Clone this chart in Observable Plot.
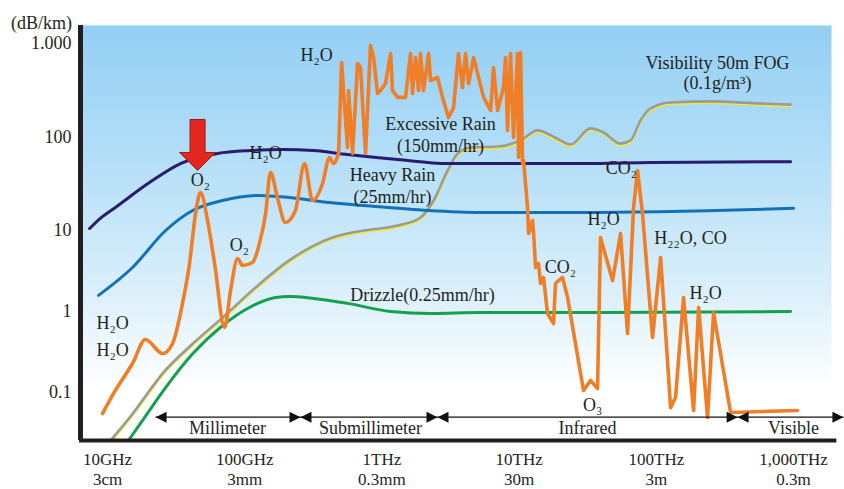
<!DOCTYPE html>
<html><head><meta charset="utf-8">
<script src="https://cdn.jsdelivr.net/npm/d3@7"></script>
<script src="https://cdn.jsdelivr.net/npm/@observablehq/plot@0.6"></script>
<style>body{margin:0;background:#fff;}</style>
</head><body><div id="chart"></div>
<script>
// Frequency in GHz, attenuation in dB/km
const excessiveRain = [[7.4,10.5],[8.9,13.6],[11.4,17.7],[20.2,32.8],[34,52.5],[63.4,67.3],[110,72.4],[189,74.3],[317,72.4],[561,65.6],[1300,58],[3010,52.5],[9100,52.5],[28000,52.5],[90800,53.8],[951000,55]];
const heavyRain = [[8.6,1.58],[15.2,3.49],[26.5,10],[41.7,16.4],[68.9,21],[128,23.8],[212,22.6],[415,20],[735,18.6],[2150,16.4],[5240,15.6],[28000,15.6],[1000000,17.3]];
const drizzle = [[14.2,0.0255],[18.6,0.049],[26.5,0.115],[41.7,0.30],[68.9,0.67],[108,1.12],[168,1.49],[212,1.53],[317,1.45],[561,1.26],[1155,1.0],[2260,0.945],[5240,0.97],[28000,0.97],[951000,1.0]];
const fog = [[10.5,0.0255],[14.5,0.049],[26.5,0.19],[41.7,0.40],[68.9,0.84],[120,1.98],[212,4.3],[436,8.2],[735,10],[1300,11.3],[1910,13.8],[2380,21],[3010,44],[3560,67],[4420,78],[6960,80],[10230,93],[13600,119],[19000,97],[23700,84],[33100,125],[41200,113],[54800,86],[64800,93],[76700,152],[90800,204],[126800,236],[248000,242],[574000,230],[951000,224]];
const gasSmooth = [[9.2,0.055],[11.4,0.106],[15.2,0.228],[18.9,0.451],[25.2,0.303],[29.8,0.403],[35.2,1.26],[39.6,3.92],[43.8,15.2],[47.6,25.6],[53.6,12.8],[60.3,3.92],[71.3,0.634],[78.8,1.81],[88.7,4.51],[96.4,3.70],[114,4.03],[128,6.92],[142,15.2],[154,42.1],[173,22.6],[198,12.2],[234,16.4],[273,52.5],[312,21.0],[369,32.0],[415,61.0],[444,52.5],[483,67.3]];
const gasSharp = [[483,67.3],[508,628],[561,78],[571,316],[611,67.3],[664,613],[698,556],[759,67.3],[826,952],[869,710],[929,294],[977,316],[1062,375],[1156,783],[1194,316],[1300,267],[1486,267],[1616,783],[1671,294],[1757,710],[1849,316],[1910,783],[2009,316],[2188,783],[2260,404],[2541,435],[2767,267],[3055,163],[3325,208],[3614,783],[3865,340],[4066,783],[4276,375],[4656,710],[4977,480],[5508,267],[6194,194],[6506,556],[6966,194],[7698,340],[7962,710],[8227,119],[8650,783],[9099,100],[9731,783],[9900,61],[10230,802],[10590,52.5],[10770,56.6],[11510,17.7],[11720,9.18],[12530,12.8],[12740,9.18],[13180,3.49],[13840,3.92],[14320,2.22],[15060,2.63],[16100,0.945],[17810,0.711],[18410,2.22],[19360,2.41],[20710,2.63],[22540,1.49],[29450,0.106],[33130,0.141],[37250,0.112],[39170,8.2],[47940,2.41],[54830,9.18],[61660,0.535],[68220,17.7],[72950,44.2],[79270,15.2],[93790,0.478],[107400,4.64],[127000,0.065],[138000,0.0867],[157800,1.49],[186700,0.060],[203200,1.12],[236100,0.049],[261200,0.972],[347500,0.0566],[1070000,0.060]];

const labelText = ["H₂O","H₂O","O₂","O₂","H₂O","H₂O","Excessive Rain","(150mm/hr)","Heavy Rain","(25mm/hr)","Visibility 50m FOG","(0.1g/m³)","Drizzle(0.25mm/hr)","CO₂","H₂O","H₂₂O, CO","CO₂","H₂O","O₃"];
const labelFreq = [10.9,10.9,47.6,91.6,142,334,2675,2675,1194,1194,279000,279000,1977,55700,41200,177500,20000,228500,34300];
const labelAtten = [0.711,0.33,34.5,6.53,67.3,745,137,80,39,22.6,613,375,1.58,46.4,13.1,7.96,3.49,1.67,0.069];

const bandNames = ["Millimeter","Submillimeter","Infrared","Visible"];
const bandLabelFreq = [75,826,31500,1000000];
const bandEdges = [22.4,255,2541,391000,2310000];
const bandLineAtten = 0.0495;
const bandLabelAtten = 0.036;

const arrowTip = [[45.3,44.2]];

const xTickValues = [10,100,1000,10000,100000,1000000];
const xTickLabels = ["10GHz\n3cm","100GHz\n3mm","1THz\n0.3mm","10THz\n30m","100THz\n3m","1,000THz\n0.3m"];
const yTickValues = [0.1,1,10,100,1000];
const yTickLabels = ["0.1","1","10","100","1.000"];

const xDomain = [6.57,1.89e6];
const yDomain = [0.0255,0.1,1,10,100,1000,1555];
const yRange = [440,392,311,230,137,43,25];

const rows = a => a.map(([f,v]) => ({f,v}));
const labels = labelText.map((t,i) => ({t, f: labelFreq[i], v: labelAtten[i]}));
const bands = bandNames.map((t,i) => ({t, f: bandLabelFreq[i], v: bandLabelAtten}));
const leftHeads = bandEdges.slice(0,4).map(f => ({f, v: bandLineAtten}));
const rightHeads = bandEdges.slice(1).map(f => ({f, v: bandLineAtten}));
const xFmt = new Map(xTickValues.map((d,i)=>[d,xTickLabels[i]]));
const yFmt = new Map(yTickValues.map((d,i)=>[d,yTickLabels[i]]));

const triRight = {draw(c){c.moveTo(0,0);c.lineTo(-11,-5.5);c.lineTo(-11,5.5);c.closePath();}};
const triLeft = {draw(c){c.moveTo(0,0);c.lineTo(11,-5.5);c.lineTo(11,5.5);c.closePath();}};
const blockArrow = {draw(c){c.moveTo(0,0);c.lineTo(-18,-18);c.lineTo(-7.5,-18);c.lineTo(-7.5,-51);c.lineTo(7.5,-51);c.lineTo(7.5,-18);c.lineTo(18,-18);c.closePath();}};

const font = "'Liberation Serif', 'DejaVu Serif', serif";
const ink = "#231f20";

const chart = Plot.plot({
  width: 844, height: 489,
  marginLeft: 82, marginRight: 13, marginTop: 25, marginBottom: 49,
  style: {fontFamily: font, fontSize: "18px", color: ink, background: "transparent"},
  x: {type: "log", domain: xDomain, label: null},
  y: {type: "log", domain: yDomain, range: yRange, label: null},
  marks: [
    Plot.frame({fill: "url(#bgGrad)", stroke: null}),
    Plot.line(rows(fog), {x: "f", y: "v", stroke: "#f3ec2a", strokeWidth: 2.6, dy: 1.4, curve: "monotone-x", clip: true}),
    Plot.line(rows(fog), {x: "f", y: "v", stroke: "#9a9a9a", strokeWidth: 2.6, curve: "monotone-x", clip: true}),
    Plot.line(rows(drizzle), {x: "f", y: "v", stroke: "#14a04c", strokeWidth: 3, curve: "monotone-x", clip: true}),
    Plot.line(rows(heavyRain), {x: "f", y: "v", stroke: "#1271b8", strokeWidth: 3, curve: "monotone-x"}),
    Plot.line(rows(excessiveRain), {x: "f", y: "v", stroke: "#2a1a70", strokeWidth: 3, curve: "monotone-x"}),
    Plot.line(rows(gasSmooth), {x: "f", y: "v", stroke: "#f07e26", strokeWidth: 3.6, curve: "monotone-x", strokeLinejoin: "round"}),
    Plot.line(rows(gasSharp), {x: "f", y: "v", stroke: "#f07e26", strokeWidth: 3.6, strokeLinejoin: "round"}),
    Plot.dot(rows(arrowTip), {x: "f", y: "v", symbol: blockArrow, fill: "#e3261f", stroke: "#9e1b14", strokeWidth: 1, r: 5}),
    Plot.link([{a: bandEdges[0], b: bandEdges[4], v: bandLineAtten}], {x1: "a", x2: "b", y1: "v", y2: "v", stroke: "#111", strokeWidth: 1.3}),
    Plot.dot(leftHeads, {x: "f", y: "v", symbol: triLeft, fill: "#111", stroke: null, r: 5}),
    Plot.dot(rightHeads, {x: "f", y: "v", symbol: triRight, fill: "#111", stroke: null, r: 5}),
    Plot.text(bands, {x: "f", y: "v", text: "t", fontSize: 18, fill: ink}),
    Plot.text(labels, {x: "f", y: "v", text: "t", fontSize: 18, fill: ink}),
    Plot.ruleX([xDomain[0]], {stroke: ink, strokeWidth: 5, dx: -2}),
    Plot.link([{a: 6.2, b: 2.05e6, v: yDomain[0]}], {x1: "a", x2: "b", y1: "v", y2: "v", stroke: ink, strokeWidth: 4}),
    Plot.axisX(xTickValues, {tickSize: 0, tickPadding: 11, tickFormat: d => xFmt.get(d), fontSize: 17, lineHeight: 1.15, fill: ink, label: null}),
    Plot.axisY(yTickValues, {tickSize: 0, tickPadding: 11, tickFormat: d => yFmt.get(d), fontSize: 18, fill: ink, label: null}),
    Plot.text(["(dB/km)"], {frameAnchor: "top-left", text: d => d, textAnchor: "middle", dx: -41, dy: -9, fontSize: 18, fill: ink})
  ]
});

const svg = d3.select(chart);
const grad = svg.insert("defs", ":first-child").append("linearGradient")
  .attr("id", "bgGrad").attr("x1", 0).attr("y1", 0).attr("x2", 0).attr("y2", 1);
[[0, "#93cff4"], [0.35, "#b7e0f8"], [0.65, "#dcf0fb"], [0.88, "#ffffff"], [1, "#ffffff"]]
  .forEach(([o, c]) => grad.append("stop").attr("offset", o).attr("stop-color", c));

document.getElementById("chart").appendChild(chart);
</script>
</body></html>
